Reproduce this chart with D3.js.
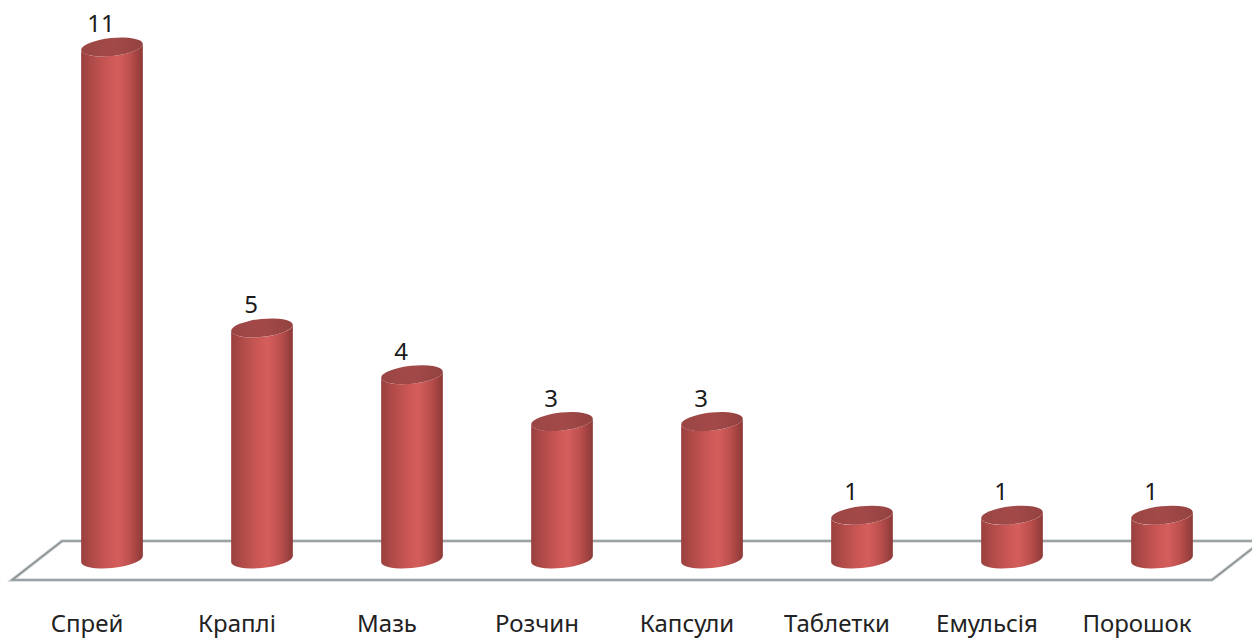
<!DOCTYPE html>
<html>
<head>
<meta charset="utf-8">
<script src="https://cdn.jsdelivr.net/npm/d3@7"></script>
<style>
  html, body { margin: 0; padding: 0; background: #ffffff; }
  svg { display: block; }
  text { font-family: "Noto Sans", "Open Sans", sans-serif; }
</style>
</head>
<body>
<svg id="chart" width="1252" height="639"></svg>
<script>
const categories = ["Спрей", "Краплі", "Мазь", "Розчин", "Капсули", "Таблетки", "Емульсія", "Порошок"];
const values = [11, 5, 4, 3, 3, 1, 1, 1];

const W = 1252, H = 639;
const svg = d3.select("#chart");

const x = d3.scaleBand()
  .domain(categories)
  .range([37, 1237])
  .paddingInner(0.5867)
  .paddingOuter(0.29335);

const y = d3.scaleLinear().domain([0, 11]).range([562, 47]);

const depth = 25;          // half depth shift of floor (perspective)
const floorBack = 541, floorFront = 580;
const baseY = 559;         // centre of the bottom ellipse
const ry = 9;
const rot = -6 * Math.PI / 180;

// defs: gradients
const defs = svg.append("defs");
const bodyGrad = defs.append("linearGradient").attr("id", "body").attr("x1", "0").attr("x2", "1").attr("y1", "0").attr("y2", "0");
[["0%", "#98403e"], ["15%", "#ad4947"], ["45%", "#cc5856"], ["60%", "#d45e5c"], ["80%", "#bb4f4d"], ["100%", "#8c3937"]]
  .forEach(([o, c]) => bodyGrad.append("stop").attr("offset", o).attr("stop-color", c));
const topGrad = defs.append("linearGradient").attr("id", "top").attr("x1", "0").attr("x2", "1").attr("y1", "0").attr("y2", "0");
[["0%", "#9a4544"], ["50%", "#a34a49"], ["100%", "#934241"]]
  .forEach(([o, c]) => topGrad.append("stop").attr("offset", o).attr("stop-color", c));

// floor
const x0 = x.range()[0], x1 = x.range()[1];
const floorD = `M${x0 - depth},${floorFront} L${x1 - depth},${floorFront} L${x1 + depth},${floorBack} L${x0 + depth},${floorBack} Z`;
svg.append("path")
  .attr("d", floorD)
  .attr("fill", "#ffffff")
  .attr("stroke", "#d3d6d8")
  .attr("stroke-width", 3.5);
svg.append("path")
  .attr("d", floorD)
  .attr("fill", "none")
  .attr("stroke", "#8a9295")
  .attr("stroke-width", 1.6);

// ellipse helpers
const rx = x.bandwidth() / 2;
function ept(cx, cy, t) {
  const ex = rx * Math.cos(t), ey = ry * Math.sin(t);
  return [cx + ex * Math.cos(rot) - ey * Math.sin(rot), cy + ex * Math.sin(rot) + ey * Math.cos(rot)];
}
const tExt = Math.atan2(-ry * Math.sin(rot), rx * Math.cos(rot));
const rotDeg = rot * 180 / Math.PI;

const g = svg.append("g");
categories.forEach((c, i) => {
  const cx = x(c) + rx;
  const cyTop = y(values[i]);
  const L = ept(cx, cyTop, tExt + Math.PI);
  const R = ept(cx, cyTop, tExt);
  const bL = ept(cx, baseY, tExt + Math.PI);
  const bR = ept(cx, baseY, tExt);
  const d = `M${L[0]},${L[1]} L${bL[0]},${bL[1]} ` +
    `A${rx},${ry} ${rotDeg} 0 0 ${bR[0]},${bR[1]} ` +
    `L${R[0]},${R[1]} A${rx},${ry} ${rotDeg} 0 1 ${L[0]},${L[1]} Z`;
  g.append("path").attr("d", d).attr("fill", "url(#body)");
  g.append("ellipse")
    .attr("cx", cx).attr("cy", cyTop).attr("rx", rx).attr("ry", ry)
    .attr("transform", `rotate(${rotDeg},${cx},${cyTop})`)
    .attr("fill", "url(#top)");
  g.append("text")
    .attr("x", cx - 11)
    .attr("y", cyTop - 15)
    .attr("text-anchor", "middle")
    .attr("font-size", 24)
    .attr("fill", "#1a1a1a")
    .text(values[i]);
});

// category labels (front edge projection)
svg.append("g").selectAll("text")
  .data(categories)
  .join("text")
  .attr("x", d => x(d) + rx - depth)
  .attr("y", 632)
  .attr("text-anchor", "middle")
  .attr("font-size", 24)
  .attr("fill", "#222222")
  .text(d => d);
</script>
</body>
</html>
